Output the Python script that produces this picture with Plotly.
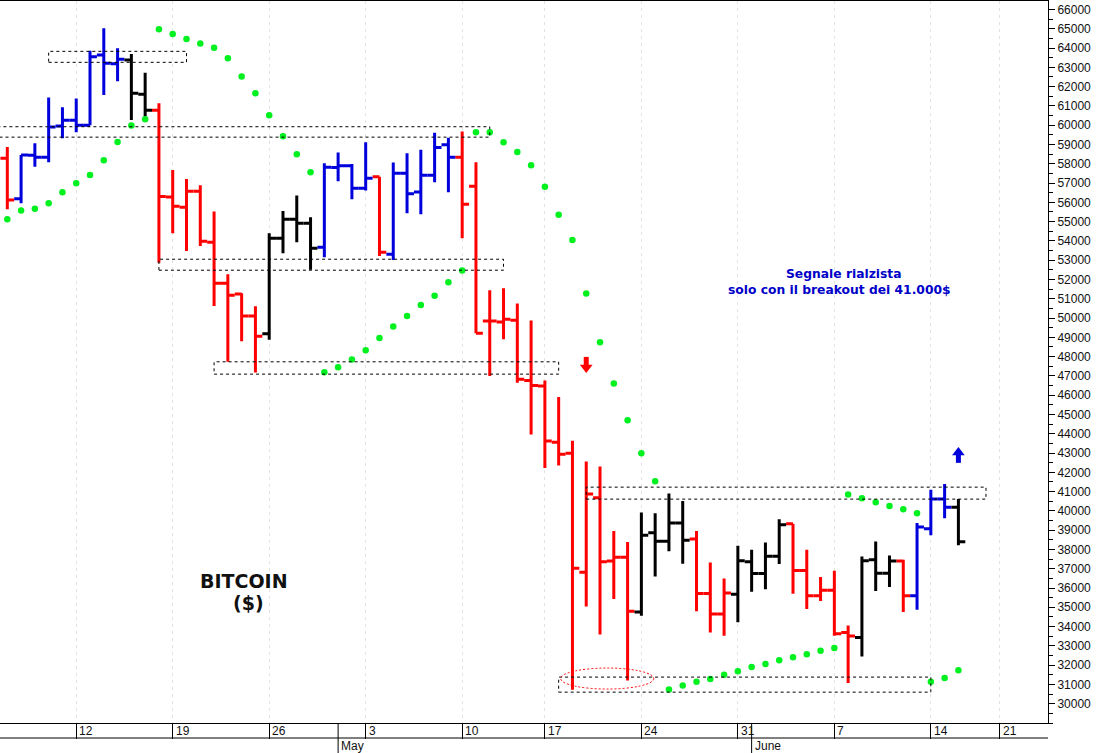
import plotly.graph_objects as go

# bar number along the axis (one per session, 1 = first bar on the left)
bars = list(range(1, 71))

opens = [58290, 56180, 58440, 58340, 59960, 60260, 60000, 63640, 63180, 63380,
         61600, 60780, 56270, 55750, 56580, 53930, 51810, 51240, 50110, 49180,
         54140, 55120, 54920, 53670, 57800, 57900, 56730, 57320, 53310, 57510,
         56540, 57410, 58980, 58340, 56840, 49840, 49790, 49890, 46760, 46480,
         43560, 42990, 36820, 40680, 37400, 37600, 34750, 38860, 38430, 39370,
         38540, 35720, 34650, 35680, 37360, 36750, 37650, 39330, 36910, 35600,
         35890, 33690, 33430, 37460, 36770, 37400, 35600, 39070, 40610, 40190]
highs = [58870, 58460, 59060, 61430, 60930, 61380, 63860, 65030, 63990, 63690,
         62720, 61140, 57680, 57210, 56890, 55520, 52270, 51290, 50610, 54400,
         55550, 56350, 55230, 58030, 58580, 57990, 59120, 57320, 58060, 58550,
         58720, 59610, 59350, 59670, 58080, 51440, 51550, 50750, 49870, 46760,
         45900, 43630, 42560, 42300, 38950, 38380, 39910, 39880, 40900, 40510,
         38950, 37320, 36490, 38190, 37980, 38360, 39570, 39330, 37980, 36570,
         36890, 34060, 37630, 38410, 37690, 37460, 39370, 41090, 41390, 40610]
lows = [55640, 55950, 57850, 58080, 59320, 59630, 60000, 61570, 62280, 60270,
        60440, 52870, 54400, 53470, 53740, 50630, 47730, 48800, 47170, 48870,
        53360, 53930, 52500, 53150, 57090, 56160, 56610, 53220, 53010, 55440,
        55380, 57040, 56520, 54140, 49210, 47000, 48900, 46650, 43960, 42220,
        42350, 30720, 35040, 33590, 35430, 31210, 34560, 36600, 37910, 37260,
        34800, 33690, 33520, 34230, 35800, 35940, 37240, 35700, 34910, 35320,
        33520, 31070, 32450, 35840, 36050, 34750, 34870, 38740, 39620, 38220]
closes = [56120, 58460, 58340, 59910, 60260, 60000, 63550, 63210, 63420, 61660,
          60780, 56300, 55800, 56580, 53980, 51810, 51180, 50110, 49060, 54140,
          55120, 54920, 53620, 57820, 57900, 56730, 57250, 53410, 57510, 56450,
          57410, 58840, 58340, 55900, 49210, 49840, 49940, 46830, 46500, 43620,
          42940, 37030, 40870, 37360, 37600, 34800, 38740, 38430, 39370, 38480,
          35720, 34650, 35740, 37410, 36750, 37650, 39280, 36910, 35600, 35890,
          33630, 33510, 37410, 36770, 37400, 35600, 39170, 40610, 40190, 38400]
trend = (['red'] + ['blue'] * 8 + ['black'] * 2 + ['red'] * 8 + ['black'] * 4
         + ['blue'] * 4 + ['red'] + ['blue'] * 5 + ['red'] * 13 + ['black'] * 4
         + ['red'] * 3 + ['black'] * 4 + ['red'] * 5 + ['black'] * 3 + ['red']
         + ['blue'] * 3 + ['black'])

# parabolic sar, one dot per bar
sar = [55120, 55570, 55670, 55950, 56520, 56990, 57420, 58180, 59130, 59980,
       60310, 64970, 64730, 64470, 64230, 64020, 63470, 62520, 61660, 60520,
       59430, 58490, 57560, 47190, 47450, 47850, 48330, 48960, 49560, 50100,
       50670, 51160, 51860, 52460, 59630, 59630, 59120, 58610, 57920, 56810,
       55360, 54040, 51270, 48750, 46610, 44700, 42990, 41540, 30740, 30950,
       31140, 31280, 31500, 31690, 31900, 32060, 32250, 32410, 32570, 32750,
       32890, 40850, 40660, 40450, 40250, 40090, 39880, 31140, 31330, 31740]

# dashed support / resistance boxes: first bar, last bar, top, bottom
box_start = [4, 0, 12, 16, 43, 41]
box_end = [14, 36, 37, 41, 72, 68]
box_top = [63830, 59920, 53050, 47730, 41230, 31380]
box_bottom = [63260, 59380, 52480, 47090, 40610, 30600]

# signal arrows: bar, price at the head, price at the tail
arrow_bars = [43, 70]
arrow_heads = [47440, 43030]
arrow_tails = [47985, 42490]
arrow_symbols = ['triangle-down', 'triangle-up']
arrow_colors = ['#ff0000', '#0000dc']

week_bars = [6, 13, 20, 27, 34, 40, 47, 54, 61, 68, 73]
week_labels = ['12', '19', '26', '3', '10', '17', '24', '31', '7', '14', '21']
month_bars = [25, 55]
month_labels = ['May', 'June']
price_ticks = list(range(30000, 66001, 1000))

COLORS = {'red': '#ff0000', 'blue': '#0000dc', 'black': '#000000'}
AXIS_FONT = dict(family='Liberation Sans', size=12, color='#111111')
ROW = 15 / 722  # height of one date row, in paper units

fig = go.Figure()

for name, color in COLORS.items():
    idx = [i for i, t in enumerate(trend) if t == name]
    fig.add_trace(go.Ohlc(x=[bars[i] for i in idx],
                          open=[opens[i] for i in idx],
                          high=[highs[i] for i in idx],
                          low=[lows[i] for i in idx],
                          close=[closes[i] for i in idx],
                          tickwidth=0.5,
                          increasing=dict(line=dict(color=color, width=3)),
                          decreasing=dict(line=dict(color=color, width=3)),
                          showlegend=False))

fig.add_trace(go.Scatter(x=bars, y=sar, mode='markers',
                         marker=dict(color='#00f020', size=6.5),
                         showlegend=False))

for x0, x1, top, bottom in zip(box_start, box_end, box_top, box_bottom):
    fig.add_shape(type='rect', x0=x0, x1=x1, y0=bottom, y1=top,
                  line=dict(color='black', width=1, dash='3px,3px'))

fig.add_shape(type='circle', x0=41.15, x1=47.9, y0=30760, y1=31850,
              line=dict(color='#ff0000', width=1, dash='2px,2px'))

# date rows under the plot
fig.add_shape(type='line', xref='paper', yref='paper', x0=0, x1=1, y0=-ROW, y1=-ROW,
              line=dict(color='black', width=1))
for b in month_bars:
    fig.add_shape(type='line', xref='x', yref='paper', x0=b, x1=b, y0=0, y1=-2 * ROW,
                  line=dict(color='black', width=1))

for b, label in zip(week_bars, week_labels):
    fig.add_annotation(x=b, y=-ROW / 2, yref='paper', text=label, showarrow=False,
                       xanchor='left', yanchor='middle', xshift=1, font=AXIS_FONT)
for b, label in zip(month_bars, month_labels):
    fig.add_annotation(x=b, y=-1.5 * ROW, yref='paper', text=label, showarrow=False,
                       xanchor='left', yanchor='middle', xshift=1, font=AXIS_FONT)

# signal arrows, a thick shaft with a triangle on the end
for b, head, tail, color in zip(arrow_bars, arrow_heads, arrow_tails, arrow_colors):
    fig.add_shape(type='line', x0=b, x1=b, y0=tail, y1=head,
                  line=dict(color=color, width=5))
fig.add_trace(go.Scatter(x=arrow_bars, y=arrow_heads, mode='markers',
                         marker=dict(symbol=arrow_symbols, color=arrow_colors, size=11),
                         showlegend=False))

fig.add_annotation(x=18.2, y=36370, text='<b>BITCOIN</b>', showarrow=False,
                   font=dict(family='DejaVu Sans', size=19, color='#111111'))
fig.add_annotation(x=18.5, y=35230, text='<b>($)</b>', showarrow=False,
                   font=dict(family='DejaVu Sans', size=19, color='#111111'))
fig.add_annotation(x=61.7, y=52290, text='<b>Segnale rialzista</b>', showarrow=False,
                   font=dict(family='DejaVu Sans', size=12.3, color='#0000c8'))
fig.add_annotation(x=61.4, y=51460, text='<b>solo con il breakout dei 41.000$</b>', showarrow=False,
                   font=dict(family='DejaVu Sans', size=12.3, color='#0000c8'))

fig.update_layout(width=1096, height=753,
                  autosize=False,
                  margin=dict(l=0, r=48, t=1, b=30),
                  paper_bgcolor='white',
                  plot_bgcolor='white',
                  showlegend=False,
                  xaxis=dict(range=[0.47, 76.5],
                             rangeslider=dict(visible=False),
                             tickmode='array',
                             tickvals=week_bars,
                             ticktext=week_labels,
                             showticklabels=False,
                             ticks='outside',
                             ticklen=15,
                             tickcolor='black',
                             showgrid=True,
                             gridcolor='#e2e2e2',
                             griddash='3px,4px',
                             zeroline=False,
                             showline=True,
                             linecolor='black',
                             linewidth=1,
                             mirror=True),
                  yaxis=dict(range=[29000, 66440],
                             side='right',
                             tickmode='array',
                             tickvals=price_ticks,
                             ticks='outside',
                             ticklen=6,
                             tickcolor='black',
                             tickformat='d',
                             tickfont=AXIS_FONT,
                             showgrid=False,
                             zeroline=False,
                             showline=True,
                             linecolor='black',
                             linewidth=1,
                             minor=dict(tickmode='linear', tick0=0, dtick=500,
                                        ticks='outside', ticklen=4,
                                        tickcolor='black', showgrid=False)))

# drop the browser's default body margin so the chart fills the window
fig.write_html("out.html", config=dict(displayModeBar=False),
               post_script="document.body.style.margin='0';document.body.style.overflow='hidden';")
